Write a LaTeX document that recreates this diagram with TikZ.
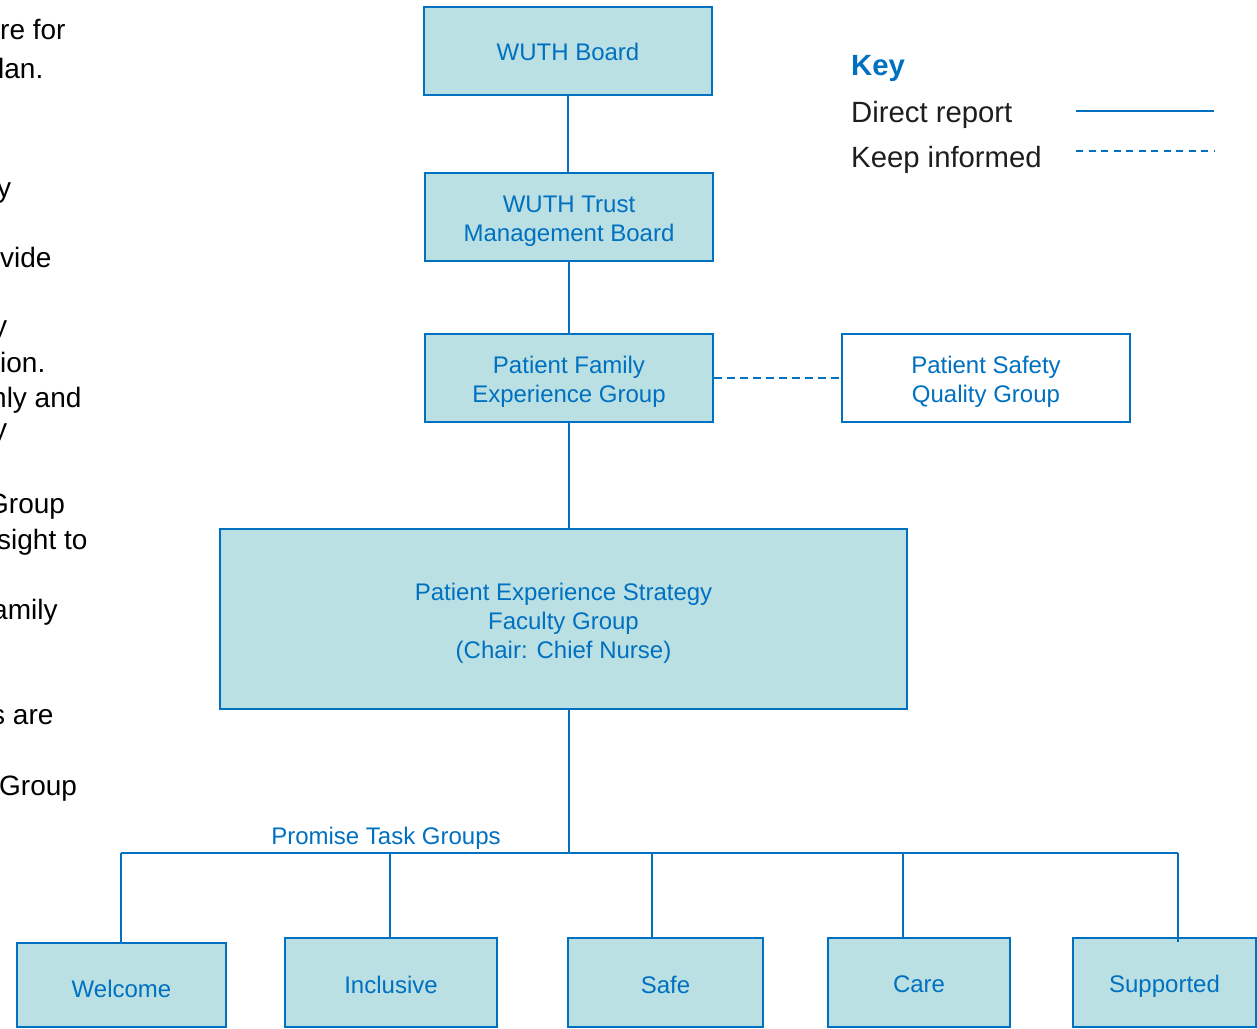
\documentclass[tikz,border=0pt]{standalone}
\usepackage{fontspec}
\setmainfont{Liberation Sans}
\definecolor{bblue}{HTML}{0070C0}
\definecolor{bfill}{HTML}{BAE0E3}
\definecolor{ktext}{HTML}{1E1E1E}
\begin{document}
\begin{tikzpicture}[x=1pt,y=-1pt,
  box/.style={rectangle, draw=bblue, line width=2.5pt, fill=bfill, inner sep=0pt},
  wbox/.style={box, fill=white},
  btext/.style={inner sep=0pt, text=bblue, font=\fontsize{24}{29}\selectfont, align=center},
  conn/.style={draw=bblue, line width=2pt},
  infconn/.style={conn, dash pattern=on 8pt off 5pt},
  side/.style={anchor=base west, inner sep=0pt, text=black, font=\fontsize{28}{34}\selectfont},
  keytext/.style={anchor=base west, inner sep=0pt, text=ktext, font=\fontsize{29.3}{35}\selectfont}]
\useasboundingbox (0,0) rectangle (1257,1028);

% cut-off text at the left margin
\begin{scope}
\clip (0,0) rectangle (200,1028);
\node[side] (s1) at (0,39) {re for};
\node[side] (s2) at (-2,78) {lan.};
\node[side] (s3) at (-3,197) {y};
\node[side] (s4) at (0,267) {vide};
\node[side] (s5) at (-7,335) {y};
\node[side] (s6) at (0,372) {ion.};
\node[side] (s7) at (-9,407) {nly and};
\node[side] (s8) at (-7,438) {y};
\node[side] (s9) at (-13,513) {Group};
\node[side] (s10) at (-3,549) {sight to};
\node[side] (s11) at (-8,619) {amily};
\node[side] (s12) at (-9,724) {s are};
\node[side] (s13) at (-1,795) {Group};
\end{scope}

% key
\node[keytext, text=bblue, font=\fontsize{29.3}{35}\selectfont\bfseries] (key) at (851,75) {Key};
\node[keytext] (kdr) at (851,122) {Direct report};
\node[keytext] (kki) at (851,167) {Keep informed};
\coordinate (k1a) at (1076,111);
\coordinate (k1b) at (1214,111);
\coordinate (k2a) at (1076,151);
\coordinate (k2b) at (1214,151);
\draw[conn] (k1a) -- (k1b);
\draw[infconn, dash pattern=on 7pt off 5.5pt] (k2a) -- (k2b);

% boxes
\node[box, minimum width=288pt, minimum height=88pt] (board) at (568,51) {};
\node[box, minimum width=288pt, minimum height=88pt] (tmb) at (569,217) {};
\node[box, minimum width=288pt, minimum height=88pt] (pfeg) at (569,378) {};
\node[wbox, minimum width=288pt, minimum height=88pt] (psqg) at (986,378) {};
\node[box, minimum width=687pt, minimum height=180pt] (strat) at (563.5,619) {};
\node[box, minimum width=209pt, minimum height=84pt] (welcome) at (121.5,985) {};
\node[box, minimum width=212pt, minimum height=89pt] (inclusive) at (391,982.5) {};
\node[box, minimum width=195pt, minimum height=89pt] (safe) at (665.5,982.5) {};
\node[box, minimum width=182pt, minimum height=89pt] (care) at (919,982.5) {};
\node[box, minimum width=183pt, minimum height=89pt] (supported) at (1164.5,982.5) {};

% box texts
\node[btext] (board-t) at ([yshift=-1pt]board.center) {WUTH Board};
\node[btext] (tmb-t) at ([yshift=-4pt]tmb.center) {WUTH Trust\\Management Board};
\node[btext] (pfeg-t) at ([yshift=-4pt]pfeg.center) {Patient Family\\Experience Group};
\node[btext] (psqg-t) at ([yshift=-4pt]psqg.center) {Patient Safety\\Quality Group};
\node[btext] (strat-t) at ([yshift=-4pt]strat.center) {Patient Experience Strategy\\Faculty Group\\(Chair: Chief Nurse)};
\node[btext] (welcome-t) at ([yshift=-4pt]welcome.center) {Welcome};
\node[btext] (inclusive-t) at ([yshift=-2pt]inclusive.center) {Inclusive};
\node[btext] (safe-t) at ([yshift=-2pt]safe.center) {Safe};
\node[btext] (care-t) at ([yshift=-2pt]care.center) {Care};
\node[btext] (supported-t) at ([yshift=-4pt]supported.center) {Supported};

% connectors
\draw[conn] (board.south) -- (board.south |- tmb.north);
\draw[conn] (tmb.south) -- (pfeg.north);
\draw[conn] (pfeg.south) -- (pfeg.south |- strat.north);
\draw[infconn] (pfeg.east) -- (psqg.west);

\coordinate (busC) at (569,853);
\coordinate (busL) at (121,853);
\coordinate (busR) at (1178,853);
\coordinate (d2) at (390,853);
\coordinate (d3) at (652,853);
\coordinate (d4) at (903,853);
\draw[conn] (busC |- strat.south) -- (busC);
\draw[conn] (busL) -- (busR);
\draw[conn] (busL) -- (busL |- welcome.north);
\draw[conn] (d2) -- (d2 |- inclusive.north);
\draw[conn] (d3) -- (d3 |- safe.north);
\draw[conn] (d4) -- (d4 |- care.north);
\draw[conn] (busR) -- (busR |- welcome.north);

\node[btext] (ptg) at (386,838) {Promise Task Groups};
\end{tikzpicture}
\end{document}
